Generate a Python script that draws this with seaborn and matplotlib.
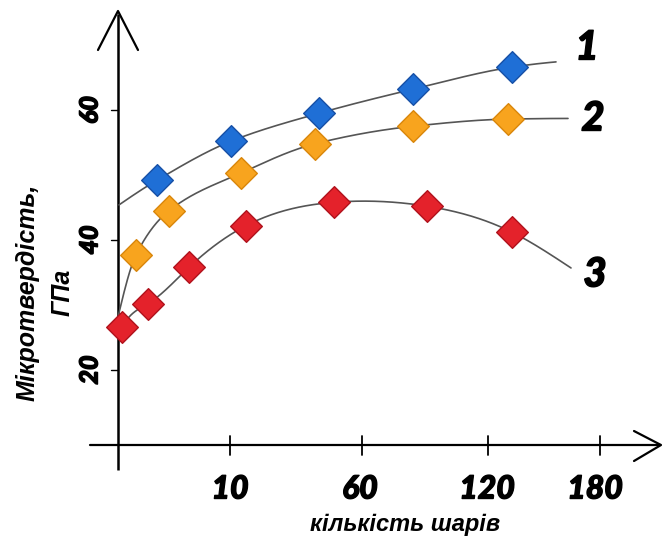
import numpy as np
import pandas as pd
import matplotlib
matplotlib.use("Agg")
import matplotlib.pyplot as plt
import matplotlib.patheffects as pe
import seaborn as sns

# ---------------- data (x is position along the hand-drawn, non-linear axis) ----
x_tick_pos = [11.2, 24.4, 37.0, 48.2]
x_tick_labels = ["10", "60", "120", "180"]
y_ticks = [20, 40, 60]

x1 = [3.9, 11.3, 20.1, 29.5, 39.4]
y1 = [49.2, 55.2, 59.5, 63.2, 66.6]
x2 = [1.8, 5.1, 12.3, 19.7, 29.5, 39.0]
y2 = [37.7, 44.5, 50.3, 54.8, 57.5, 58.6]
x3 = [0.4, 3.0, 7.1, 12.8, 21.6, 30.9, 39.4]
y3 = [26.6, 30.2, 35.8, 42.2, 45.8, 45.2, 41.2]

# trend-curve end anchors (start, end)
curve1_ends = [(0.1, 45.4), (43.8, 67.4)]
curve2_ends = [(0.05, 28.5), (45.0, 58.7)]
curve3_ends = [(0.0, 25.4), (45.3, 35.7)]

series_names = ["1", "2", "3"]
colors = ["#1F6FD6", "#F8A41E", "#E4222B"]
edges = ["#1750A6", "#D9860A", "#B0121C"]
smooth_kind = ["pchip", "pchip", "natural"]

# ---------------- helpers ----------------
def natural_spline(x, y, xs):
    x = np.asarray(x, float); y = np.asarray(y, float)
    n = len(x); h = np.diff(x)
    A = np.zeros((n, n)); r = np.zeros(n)
    A[0, 0] = A[-1, -1] = 1
    for i in range(1, n - 1):
        A[i, i - 1] = h[i - 1]; A[i, i] = 2 * (h[i - 1] + h[i]); A[i, i + 1] = h[i]
        r[i] = 3 * ((y[i + 1] - y[i]) / h[i] - (y[i] - y[i - 1]) / h[i - 1])
    c = np.linalg.solve(A, r)
    b = (y[1:] - y[:-1]) / h - h * (2 * c[:-1] + c[1:]) / 3
    d = (c[1:] - c[:-1]) / (3 * h)
    idx = np.clip(np.searchsorted(x, xs) - 1, 0, n - 2)
    dx = xs - x[idx]
    return y[idx] + b[idx] * dx + c[idx] * dx ** 2 + d[idx] * dx ** 3

def pchip(x, y, xs):
    x = np.asarray(x, float); y = np.asarray(y, float)
    n = len(x); h = np.diff(x); delta = np.diff(y) / h
    m = np.zeros(n)
    for k in range(1, n - 1):
        if delta[k - 1] * delta[k] > 0:
            w1 = 2 * h[k] + h[k - 1]; w2 = h[k] + 2 * h[k - 1]
            m[k] = (w1 + w2) / (w1 / delta[k - 1] + w2 / delta[k])
    m[0] = ((2 * h[0] + h[1]) * delta[0] - h[0] * delta[1]) / (h[0] + h[1])
    if np.sign(m[0]) != np.sign(delta[0]):
        m[0] = 0
    m[-1] = ((2 * h[-1] + h[-2]) * delta[-1] - h[-1] * delta[-2]) / (h[-1] + h[-2])
    if np.sign(m[-1]) != np.sign(delta[-1]):
        m[-1] = 0
    idx = np.clip(np.searchsorted(x, xs) - 1, 0, n - 2)
    t = (xs - x[idx]) / h[idx]
    h00 = 2 * t ** 3 - 3 * t ** 2 + 1; h10 = t ** 3 - 2 * t ** 2 + t
    h01 = -2 * t ** 3 + 3 * t ** 2; h11 = t ** 3 - t ** 2
    return h00 * y[idx] + h10 * h[idx] * m[idx] + h01 * y[idx + 1] + h11 * h[idx] * m[idx + 1]

W, H = 662, 540
def px(xp):
    return (xp - 118) / 10.0
def py(yp):
    return (500 - yp) / 6.5

# ---------------- figure ----------------
sns.set_theme(style="white")
plt.rcParams["font.family"] = ["Liberation Sans", "DejaVu Sans"]
fig = plt.figure(figsize=(W / 100, H / 100), dpi=100)
ax = fig.add_axes([0, 0, 1, 1])
ax.set_xlim(px(0), px(W))
ax.set_ylim(py(H), py(0))
ax.axis("off")

# axes (hand drawn style)
ax.plot([px(118), px(118)], [py(470), py(14)], color="black", lw=1.8, solid_capstyle="butt")
ax.plot([px(98), px(118), px(138)], [py(50), py(11), py(50)], color="black", lw=1.6)
ax.plot([px(90), px(660)], [py(445), py(445)], color="black", lw=1.6)
ax.plot([px(634), px(661), px(634)], [py(431), py(445), py(461)], color="black", lw=1.6)
for xt in x_tick_pos:
    ax.plot([xt, xt], [py(436), py(455)], color="black", lw=1.3)
for yt in y_ticks:
    ax.plot([px(111), px(118)], [yt, yt], color="black", lw=1.0)

# curves + markers
all_x = [x1, x2, x3]
all_y = [y1, y2, y3]
ends = [curve1_ends, curve2_ends, curve3_ends]
for xs_, ys_, en, col, ed, kind in zip(all_x, all_y, ends, colors, edges, smooth_kind):
    cx = [en[0][0]] + list(xs_) + [en[1][0]]
    cy = [en[0][1]] + list(ys_) + [en[1][1]]
    grid = np.linspace(cx[0], cx[-1], 400)
    sm = pchip(cx, cy, grid) if kind == "pchip" else natural_spline(cx, cy, grid)
    sns.lineplot(x=grid, y=sm, ax=ax, color="#555555", lw=1.2, sort=False, estimator=None)
    sns.scatterplot(x=xs_, y=ys_, ax=ax, marker="D", s=260, color=col,
                    edgecolor=ed, linewidth=1.0, zorder=5)

# heavy italic labels
heavy = [pe.withStroke(linewidth=1.0, foreground="black")]
lab_font = dict(family=["Lato", "Liberation Sans", "DejaVu Sans"], weight=900, style="italic",
                color="black", ha="center", va="center")
for name, (xe, ye) in zip(series_names, [(px(587), py(48)), (px(593), py(119)), (px(595), py(275))]):
    ax.text(xe, ye, name, fontsize=29, path_effects=heavy, **lab_font)

# tick labels
for xt, lab, xc in zip(x_tick_pos, x_tick_labels, [230, 360, 487, 595]):
    ax.text(px(xc), py(489), lab, fontsize=23, path_effects=heavy, **lab_font)
for yt in y_ticks:
    ax.text(px(90), yt, str(yt), fontsize=18, rotation=90, path_effects=heavy, **lab_font)

# axis titles
ax.text(px(405), py(525), "кількість шарів", fontsize=17, weight="bold", style="italic",
        ha="center", va="center", color="black")
ax.text(px(28), py(292), "Мікротвердість,", fontsize=18, weight="bold", style="italic",
        rotation=90, ha="center", va="center", color="black")
ax.text(px(63), py(292), "ГПа", fontsize=18, weight="bold", style="italic",
        rotation=90, ha="center", va="center", color="black")

fig.savefig("out.png", dpi=100)
